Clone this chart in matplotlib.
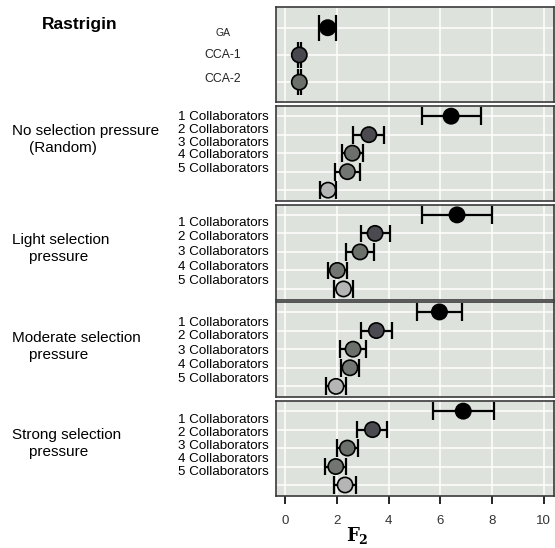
import matplotlib
matplotlib.use("Agg")
import matplotlib.pyplot as plt
import numpy as np

plt.rcParams['font.family'] = ['Liberation Sans', 'DejaVu Sans']
plt.rcParams['mathtext.fontset'] = 'dejavuserif'

# ---- data ----
baseline_labels = ["GA", "CCA-1", "CCA-2"]
baseline_mean = [1.65, 0.55, 0.55]
baseline_err = [0.32, 0.05, 0.05]

collab_labels = ["1 Collaborators", "2 Collaborators", "3 Collaborators",
                 "4 Collaborators", "5 Collaborators"]

group_names = ["No selection pressure\n    (Random)",
               "Light selection\n    pressure",
               "Moderate selection\n    pressure",
               "Strong selection\n    pressure"]

none_mean = [6.42, 3.24, 2.60, 2.41, 1.66]
none_err = [1.14, 0.60, 0.40, 0.48, 0.30]
light_mean = [6.65, 3.48, 2.90, 2.02, 2.26]
light_err = [1.36, 0.56, 0.54, 0.36, 0.37]
moderate_mean = [5.97, 3.53, 2.63, 2.51, 1.97]
moderate_err = [0.88, 0.60, 0.50, 0.36, 0.40]
strong_mean = [6.89, 3.38, 2.41, 1.96, 2.32]
strong_err = [1.18, 0.58, 0.40, 0.41, 0.42]

x_ticks = [0, 2, 4, 6, 8, 10]

baseline_colors = ["#000000", "#47474d", "#6b706b"]
collab_colors = ["#000000", "#4a4a50", "#6b706b", "#727672", "#b5b5b5"]

W, H = 555, 548
fig = plt.figure(figsize=(W / 100, H / 100), dpi=100)

def fx(x):
    return x / W

def fy(y):
    return 1 - y / H

left_px, right_px = 275.5, 554
panels_px = [(7.3, 102), (106, 200.7), (204.7, 299.5), (301.7, 397), (401, 495.5)]

panel_data = [(baseline_mean, baseline_err, baseline_colors)]
for m, e in [(none_mean, none_err), (light_mean, light_err),
             (moderate_mean, moderate_err), (strong_mean, strong_err)]:
    panel_data.append((m, e, collab_colors))

bg = "#dde2dc"
axes = []
for i, ((top, bot), (means, errs, cols)) in enumerate(zip(panels_px, panel_data)):
    ax = fig.add_axes([fx(left_px), fy(bot), fx(right_px - left_px), (bot - top) / H])
    ax.set_facecolor(bg)
    n = len(means)
    ys = np.arange(1, n + 1)
    if i == 0:
        ax.set_ylim(3.73, 0.25)
    else:
        ax.set_ylim(n + 0.57, 0.45)
    ax.set_xlim(-0.37, 10.4)
    for xv in x_ticks:
        ax.axvline(xv, color="white", lw=1.1, zorder=0)
    for yv in ys:
        ax.axhline(yv, color="white", lw=1.1, zorder=0)
    m = np.array(means)
    e = np.array(errs)
    ax.hlines(ys, m - e, m + e, color="black", lw=1.6, zorder=2)
    ax.vlines(m - e, ys - 0.48, ys + 0.48, color="black", lw=1.6, zorder=2)
    ax.vlines(m + e, ys - 0.48, ys + 0.48, color="black", lw=1.6, zorder=2)
    ax.scatter(m, ys, s=11 ** 2, c=cols, edgecolors="black", linewidths=1.2, zorder=3)
    ax.set_yticks([])
    for sp in ax.spines.values():
        sp.set_color("#3a3a3a")
        sp.set_linewidth(1.2)
    if i == len(panels_px) - 1:
        ax.set_xticks(x_ticks)
        ax.set_xticklabels([str(t) for t in x_ticks])
        ax.tick_params(axis="x", direction="out", length=6, width=1.2, color="black",
                       labelsize=9.5, labelcolor="#333333", pad=8)
    else:
        ax.set_xticks([])
    axes.append(ax)

# ---- left-hand annotations ----
fig.text(fx(80), fy(25), "Rastrigin", fontsize=12.5, fontweight="bold",
         ha="center", va="center")
base_y = [33, 55, 79]
base_size = [7.5, 8.8, 8.8]
for lab, yy, fs in zip(baseline_labels, base_y, base_size):
    fig.text(fx(223), fy(yy), lab, fontsize=fs, ha="center", va="center",
             color="#222222")

collab_y = [[116.7, 130, 142.7, 155, 168.7],
            [223.3, 237.3, 251.7, 266.7, 281],
            [323.3, 336, 350.7, 365, 379.3],
            [420, 433.3, 446, 459.3, 471.7]]
group_y = [139.5, 248.3, 346.3, 443.8]
for g, name in enumerate(group_names):
    for lab, yy in zip(collab_labels, collab_y[g]):
        fig.text(fx(268.5), fy(yy), lab, fontsize=9.6, ha="right", va="center")
    fig.text(fx(11.5), fy(group_y[g]), name, fontsize=11, ha="left", va="center",
             linespacing=1.25)

fig.text(fx(357), fy(535), r"$\mathbf{F_2}$", fontsize=13, ha="center", va="center")

fig.savefig("out.png", dpi=100)
